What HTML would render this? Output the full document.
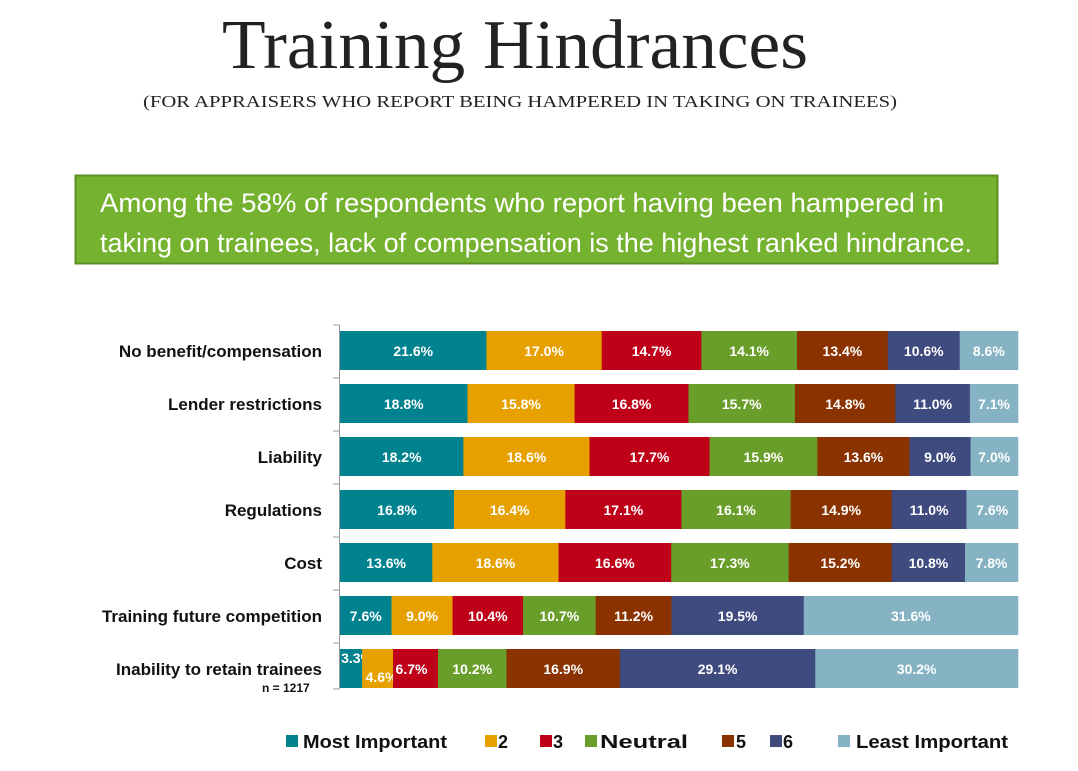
<!DOCTYPE html>
<html><head><meta charset="utf-8"><style>
html,body{margin:0;padding:0;background:#fff;}
svg{display:block;}
</style></head><body>
<svg id="s" width="1078" height="771" xmlns="http://www.w3.org/2000/svg">
<text x="515" y="68" text-anchor="middle" font-family="Liberation Serif, serif" font-size="70" fill="#222" textLength="586" lengthAdjust="spacingAndGlyphs">Training Hindrances</text>
<text x="520" y="107" text-anchor="middle" font-family="Liberation Serif, serif" font-size="17" fill="#222" textLength="754" lengthAdjust="spacingAndGlyphs">(FOR APPRAISERS WHO REPORT BEING HAMPERED IN TAKING ON TRAINEES)</text>
<rect x="75.5" y="175.5" width="922" height="88" fill="#74B22F" stroke="#5E8F26" stroke-width="2"/>
<text x="100" y="212" font-family="Liberation Sans, sans-serif" font-size="27" fill="#fff" textLength="844" lengthAdjust="spacingAndGlyphs">Among the 58% of respondents who report having been hampered in</text>
<text x="100" y="252" font-family="Liberation Sans, sans-serif" font-size="27" fill="#fff" textLength="872" lengthAdjust="spacingAndGlyphs">taking on trainees, lack of compensation is the highest ranked hindrance.</text>
<g id="bars"></g>
<line x1="339.5" y1="325" x2="339.5" y2="689" stroke="#999" stroke-width="1"/>
<text x="262" y="692" font-family="Liberation Sans, sans-serif" font-size="12" font-weight="bold" fill="#111">n = 1217</text>
<g font-family="Liberation Sans, sans-serif" font-size="18" font-weight="bold" fill="#111">
<rect x="286" y="735" width="12" height="12" fill="#00828F"/><text x="303" y="748" textLength="144" lengthAdjust="spacingAndGlyphs">Most Important</text>
<rect x="485" y="735" width="12" height="12" fill="#E6A100"/><text x="498" y="748">2</text>
<rect x="540" y="735" width="12" height="12" fill="#BE0019"/><text x="553" y="748">3</text>
<rect x="585" y="735" width="12" height="12" fill="#6A9E2A"/><text x="600" y="748" textLength="88" lengthAdjust="spacingAndGlyphs">Neutral</text>
<rect x="722" y="735" width="12" height="12" fill="#8B3300"/><text x="736" y="748">5</text>
<rect x="770" y="735" width="12" height="12" fill="#3F4A7E"/><text x="783" y="748">6</text>
<rect x="838" y="735" width="12" height="12" fill="#85B3C3"/><text x="856" y="748" textLength="152" lengthAdjust="spacingAndGlyphs">Least Important</text>
</g>
</svg>
<script>
var rows=[["No benefit/compensation",[21.6,17.0,14.7,14.1,13.4,10.6,8.6]],
["Lender restrictions",[18.8,15.8,16.8,15.7,14.8,11.0,7.1]],
["Liability",[18.2,18.6,17.7,15.9,13.6,9.0,7.0]],
["Regulations",[16.8,16.4,17.1,16.1,14.9,11.0,7.6]],
["Cost",[13.6,18.6,16.6,17.3,15.2,10.8,7.8]],
["Training future competition",[7.6,9.0,10.4,10.7,11.2,19.5,31.6]],
["Inability to retain trainees",[3.3,4.6,6.7,10.2,16.9,29.1,30.2]]];
var cols=["#00828F","#E6A100","#BE0019","#6A9E2A","#8B3300","#3F4A7E","#85B3C3"];
var g=document.getElementById("bars"),h="",x0=340,W=678;
for(var i=0;i<rows.length;i++){
 var y=331+i*53,v=rows[i][1],s=v.reduce(function(a,b){return a+b},0),x=x0;
 h+='<text x="322" y="'+(y+26)+'" text-anchor="end" font-family="Liberation Sans, sans-serif" font-size="17" font-weight="bold" fill="#111">'+rows[i][0]+'</text>';
 h+='<line x1="333" y1="'+(y-6)+'" x2="339" y2="'+(y-6)+'" stroke="#999"/>';
 for(var j=0;j<7;j++){
  var w=v[j]/s*W;
  h+='<rect x="'+x+'" y="'+y+'" width="'+(w+0.3)+'" height="39" fill="'+cols[j]+'"/>';
  var tx=x+w/2,ty=y+25;
  if(i==6&&j==0){tx=x+w/2+6;ty=y+14;}
  if(i==6&&j==1){tx=x+w/2+4;ty=y+33;}
  if(i==6&&j==2){tx=x+w/2-4;}
  h+='<text x="'+tx+'" y="'+ty+'" text-anchor="middle" font-family="Liberation Sans, sans-serif" font-size="14" font-weight="bold" fill="#fff">'+v[j].toFixed(1)+'%</text>';
  x+=w;
 }
}
h+='<line x1="333" y1="689" x2="339" y2="689" stroke="#999"/>';
g.innerHTML=h;
</script>
</body></html>
